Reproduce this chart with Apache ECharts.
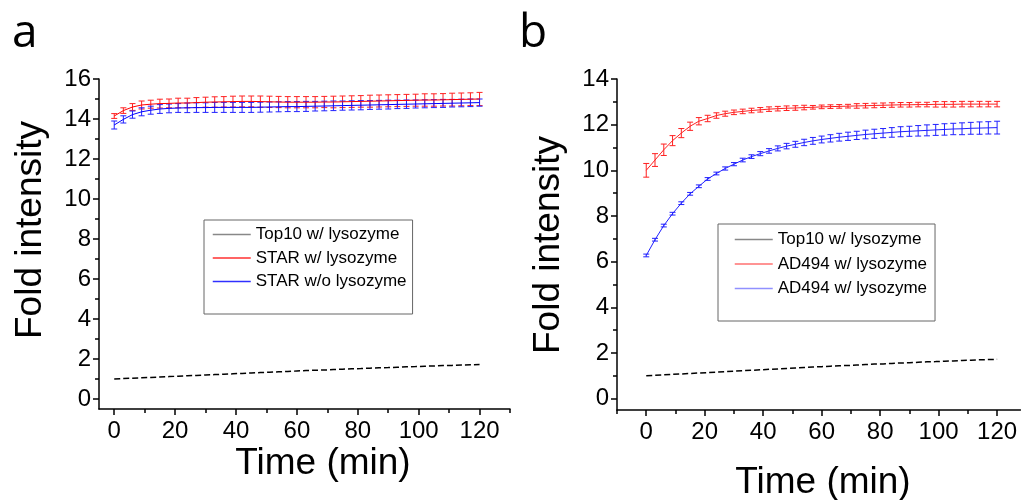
<!DOCTYPE html>
<html>
<head>
<meta charset="utf-8">
<script src="https://cdn.jsdelivr.net/npm/echarts@6/dist/echarts.min.js"></script>
<style>
html, body { margin: 0; padding: 0; background: #fff; }
#chart { width: 1021px; height: 500px; }
</style>
</head>
<body>
<div id="chart"></div>
<script>
// sampling times (min)
const times = [0, 3, 6, 9, 12, 15, 18, 21, 24, 27, 30, 33, 36, 39, 42, 45, 48, 51, 54, 57,
    60, 63, 66, 69, 72, 75, 78, 81, 84, 87, 90, 93, 96, 99, 102, 105, 108, 111, 114, 117, 120];

const top10 = [1.00, 1.02, 1.04, 1.06, 1.08, 1.10, 1.12, 1.14, 1.16, 1.18, 1.20, 1.22, 1.24, 1.26,
    1.28, 1.30, 1.32, 1.34, 1.36, 1.38, 1.40, 1.42, 1.44, 1.45, 1.47, 1.49, 1.51, 1.52, 1.54, 1.56,
    1.57, 1.59, 1.61, 1.62, 1.64, 1.65, 1.67, 1.68, 1.70, 1.71, 1.72];

// panel a
const starWith = [14.15, 14.42, 14.60, 14.70, 14.74, 14.77, 14.78, 14.80, 14.80, 14.82, 14.84, 14.85,
    14.86, 14.87, 14.88, 14.88, 14.87, 14.86, 14.85, 14.84, 14.84, 14.84, 14.84, 14.85, 14.85, 14.86,
    14.87, 14.88, 14.89, 14.90, 14.91, 14.92, 14.93, 14.94, 14.95, 14.95, 14.96, 14.97, 14.98, 14.99, 15.00];
const starWithErr = [0.12, 0.14, 0.17, 0.20, 0.20, 0.22, 0.22, 0.24, 0.24, 0.25, 0.25, 0.26, 0.26, 0.27,
    0.27, 0.27, 0.28, 0.28, 0.28, 0.28, 0.28, 0.28, 0.28, 0.28, 0.29, 0.29, 0.29, 0.29, 0.30, 0.30,
    0.30, 0.30, 0.30, 0.30, 0.31, 0.31, 0.31, 0.32, 0.32, 0.32, 0.33];
const starWithout = [13.70, 13.98, 14.22, 14.36, 14.44, 14.50, 14.53, 14.55, 14.56, 14.57, 14.57, 14.58,
    14.58, 14.58, 14.58, 14.58, 14.59, 14.60, 14.61, 14.62, 14.62, 14.63, 14.64, 14.65, 14.66, 14.67,
    14.68, 14.69, 14.70, 14.71, 14.72, 14.73, 14.74, 14.75, 14.76, 14.77, 14.78, 14.79, 14.80, 14.81, 14.82];
const starWithoutErr = [0.20, 0.18, 0.18, 0.20, 0.20, 0.22, 0.22, 0.22, 0.24, 0.24, 0.24, 0.25, 0.25, 0.25,
    0.25, 0.25, 0.25, 0.25, 0.25, 0.25, 0.25, 0.25, 0.24, 0.24, 0.24, 0.23, 0.23, 0.23, 0.22, 0.22,
    0.22, 0.21, 0.21, 0.20, 0.20, 0.20, 0.20, 0.19, 0.19, 0.19, 0.18];

// panel b
const adRed = [10.00, 10.45, 10.90, 11.30, 11.63, 11.93, 12.15, 12.27, 12.40, 12.48, 12.54, 12.58, 12.62,
    12.65, 12.68, 12.70, 12.72, 12.73, 12.75, 12.76, 12.78, 12.79, 12.80, 12.81, 12.82, 12.83, 12.84,
    12.85, 12.86, 12.87, 12.87, 12.88, 12.88, 12.89, 12.89, 12.89, 12.90, 12.90, 12.90, 12.90, 12.90];
const adRedErr = [0.30, 0.28, 0.25, 0.22, 0.20, 0.18, 0.16, 0.14, 0.12, 0.11, 0.10, 0.10, 0.10, 0.10,
    0.10, 0.10, 0.10, 0.10, 0.10, 0.08, 0.08, 0.08, 0.08, 0.08, 0.10, 0.10, 0.10, 0.10, 0.10, 0.10,
    0.10, 0.10, 0.10, 0.12, 0.12, 0.12, 0.12, 0.12, 0.12, 0.12, 0.12];
const adBlue = [6.27, 6.96, 7.58, 8.10, 8.56, 8.97, 9.30, 9.62, 9.86, 10.08, 10.27, 10.45, 10.60, 10.73,
    10.85, 10.96, 11.06, 11.14, 11.22, 11.29, 11.35, 11.40, 11.45, 11.49, 11.53, 11.57, 11.60, 11.63,
    11.66, 11.69, 11.71, 11.73, 11.75, 11.77, 11.79, 11.81, 11.82, 11.84, 11.85, 11.86, 11.87];
const adBlueErr = [0.06, 0.06, 0.06, 0.06, 0.06, 0.06, 0.06, 0.06, 0.06, 0.07, 0.07, 0.08, 0.08, 0.09,
    0.10, 0.11, 0.12, 0.13, 0.14, 0.15, 0.15, 0.16, 0.17, 0.18, 0.18, 0.19, 0.20, 0.20, 0.21, 0.22,
    0.22, 0.23, 0.24, 0.24, 0.25, 0.25, 0.26, 0.26, 0.27, 0.27, 0.28];

// tick positions
const xTicks = [0, 20, 40, 60, 80, 100, 120];
const xMinorA = [10, 30, 50, 70, 90, 110, 130];
const xMinorB = [-10, 10, 30, 50, 70, 90, 110];
const yTicksA = [0, 2, 4, 6, 8, 10, 12, 14, 16];
const yMinorA = [1, 3, 5, 7, 9, 11, 13, 15];
const yTicksB = [0, 2, 4, 6, 8, 10, 12, 14];
const yMinorB = [1, 3, 5, 7, 9, 11, 13];

const FONT = 'Arial, "Liberation Sans", Arimo, Helvetica, sans-serif';
const pairs = (vals) => times.map((t, i) => [t, vals[i]]);
const triples = (vals, errs) => times.map((t, i) => [t, vals[i], errs[i]]);

function errorBars(params, api) {
    const x = api.value(0), y = api.value(1), e = api.value(2);
    const hi = api.coord([x, y + e]);
    const lo = api.coord([x, y - e]);
    const style = { stroke: api.visual('color'), lineWidth: 1 };
    return {
        type: 'group',
        children: [
            { type: 'line', shape: { x1: hi[0], y1: hi[1], x2: lo[0], y2: lo[1] }, style },
            { type: 'line', shape: { x1: hi[0] - 3, y1: hi[1], x2: hi[0] + 3, y2: hi[1] }, style },
            { type: 'line', shape: { x1: lo[0] - 3, y1: lo[1], x2: lo[0] + 3, y2: lo[1] }, style }
        ]
    };
}

function mainX(grid, min, max) {
    return {
        type: 'value', gridIndex: grid, min, max, position: 'bottom',
        axisLine: { onZero: false, lineStyle: { color: '#000', width: 1.5 } },
        axisTick: { customValues: xTicks, length: 6, lineStyle: { color: '#000', width: 1.5 } },
        axisLabel: { customValues: xTicks, color: '#000', fontSize: 24, fontFamily: FONT, margin: 10 },
        splitLine: { show: false }
    };
}
function minorX(grid, min, max, ticks) {
    return {
        type: 'value', gridIndex: grid, min, max, position: 'bottom',
        axisLine: { show: false, onZero: false },
        axisTick: { customValues: ticks, length: 4, lineStyle: { color: '#000', width: 1.5 } },
        axisLabel: { show: false },
        splitLine: { show: false }
    };
}
function mainY(grid, min, max, ticks) {
    return {
        type: 'value', gridIndex: grid, min, max, position: 'left',
        axisLine: { show: true, onZero: false, lineStyle: { color: '#000', width: 1.5 } },
        axisTick: { show: true, customValues: ticks, length: 6, lineStyle: { color: '#000', width: 1.5 } },
        axisLabel: { customValues: ticks, color: '#000', fontSize: 24, fontFamily: FONT, margin: 8 },
        splitLine: { show: false }
    };
}
function minorY(grid, min, max, ticks) {
    return {
        type: 'value', gridIndex: grid, min, max, position: 'left',
        axisLine: { show: false, onZero: false },
        axisTick: { show: true, customValues: ticks, length: 4, lineStyle: { color: '#000', width: 1.5 } },
        axisLabel: { show: false },
        splitLine: { show: false }
    };
}

function lineSeries(name, xi, yi, vals, color, lineStyle) {
    return {
        name, type: 'line', xAxisIndex: xi, yAxisIndex: yi, data: pairs(vals),
        symbol: 'none', color,
        lineStyle: Object.assign({ color, width: 1 }, lineStyle || {}),
        animation: false
    };
}
function barSeries(xi, yi, vals, errs, color) {
    return {
        type: 'custom', xAxisIndex: xi, yAxisIndex: yi, data: triples(vals, errs),
        itemStyle: { color }, renderItem: errorBars, animation: false, silent: true
    };
}

const legendText = { fontSize: 17, fontFamily: FONT, color: '#000' };
const hiddenMark = { color: 'rgba(0,0,0,0)', opacity: 0, borderWidth: 0 };
const greyLegend = { color: '#888', type: 'solid', width: 1.5 };

const chart = echarts.init(document.getElementById('chart'));
chart.setOption({
    backgroundColor: '#fff',
    animation: false,
    grid: [
        { left: 99, top: 79, width: 411, height: 330, outerBoundsMode: 'none' },
        { left: 617, top: 79, width: 403.5, height: 331, outerBoundsMode: 'none' }
    ],
    xAxis: [
        mainX(0, -5, 130), minorX(0, -5, 130, xMinorA),
        mainX(1, -10, 128), minorX(1, -10, 128, xMinorB)
    ],
    yAxis: [
        mainY(0, -0.5, 16, yTicksA), minorY(0, -0.5, 16, yMinorA),
        mainY(1, -0.5, 14, yTicksB), minorY(1, -0.5, 14, yMinorB)
    ],
    legend: [
        {
            orient: 'vertical', left: 204, top: 220, selectedMode: false,
            padding: [6, 6, 24, 8], itemWidth: 38, itemHeight: 14, itemGap: 6.5,
            borderColor: '#666', borderWidth: 1, textStyle: legendText, itemStyle: hiddenMark,
            data: [
                { name: 'Top10 w/ lysozyme', lineStyle: greyLegend },
                { name: 'STAR w/ lysozyme', lineStyle: { color: '#ff3030', width: 1.5 } },
                { name: 'STAR w/o lysozyme', lineStyle: { color: '#3030ff', width: 1.5 } }
            ]
        },
        {
            orient: 'vertical', left: 718, top: 224, selectedMode: false,
            padding: [7, 8, 24, 16], itemWidth: 38, itemHeight: 14, itemGap: 7.5,
            borderColor: '#666', borderWidth: 1, textStyle: legendText, itemStyle: hiddenMark,
            data: [
                { name: 'Top10 w/ lysozyme', lineStyle: greyLegend },
                { name: 'AD494 w/ lysozyme', lineStyle: { color: '#ff7070', width: 1.5 } },
                { name: 'AD494 w/ lysozyme\u200b', lineStyle: { color: '#9090ff', width: 1.5 } }
            ]
        }
    ],
    graphic: [
        { type: 'text', x: 12, y: 34, style: { text: 'a', font: '46px "Open Sans"', fill: '#000', textVerticalAlign: 'middle' } },
        { type: 'text', x: 519, y: 34, style: { text: 'b', font: '46px "Open Sans"', fill: '#000', textVerticalAlign: 'middle' } },
        { type: 'text', x: 31, y: 230, rotation: Math.PI / 2, style: { text: 'Fold intensity', font: '37px ' + FONT, fill: '#000', textAlign: 'center', textVerticalAlign: 'middle' } },
        { type: 'text', x: 549, y: 245, rotation: Math.PI / 2, style: { text: 'Fold intensity', font: '37px ' + FONT, fill: '#000', textAlign: 'center', textVerticalAlign: 'middle' } },
        { type: 'text', x: 323, y: 464, style: { text: 'Time (min)', font: '37px ' + FONT, fill: '#000', textAlign: 'center', textVerticalAlign: 'middle' } },
        { type: 'text', x: 823, y: 483, style: { text: 'Time (min)', font: '37px ' + FONT, fill: '#000', textAlign: 'center', textVerticalAlign: 'middle' } }
    ],
    series: [
        lineSeries('Top10 w/ lysozyme', 0, 0, top10, '#000', { width: 1.5, type: [6, 3] }),
        lineSeries('STAR w/ lysozyme', 0, 0, starWith, '#ff0000'),
        barSeries(0, 0, starWith, starWithErr, '#ff2020'),
        lineSeries('STAR w/o lysozyme', 0, 0, starWithout, '#0000ff'),
        barSeries(0, 0, starWithout, starWithoutErr, '#2020ff'),

        lineSeries('Top10 w/ lysozyme', 2, 2, top10, '#000', { width: 1.5, type: [6, 3] }),
        lineSeries('AD494 w/ lysozyme', 2, 2, adRed, '#ff2020'),
        barSeries(2, 2, adRed, adRedErr, '#ff2020'),
        lineSeries('AD494 w/ lysozyme\u200b', 2, 2, adBlue, '#2020ff'),
        barSeries(2, 2, adBlue, adBlueErr, '#2020ff')
    ]
});
</script>
</body>
</html>
